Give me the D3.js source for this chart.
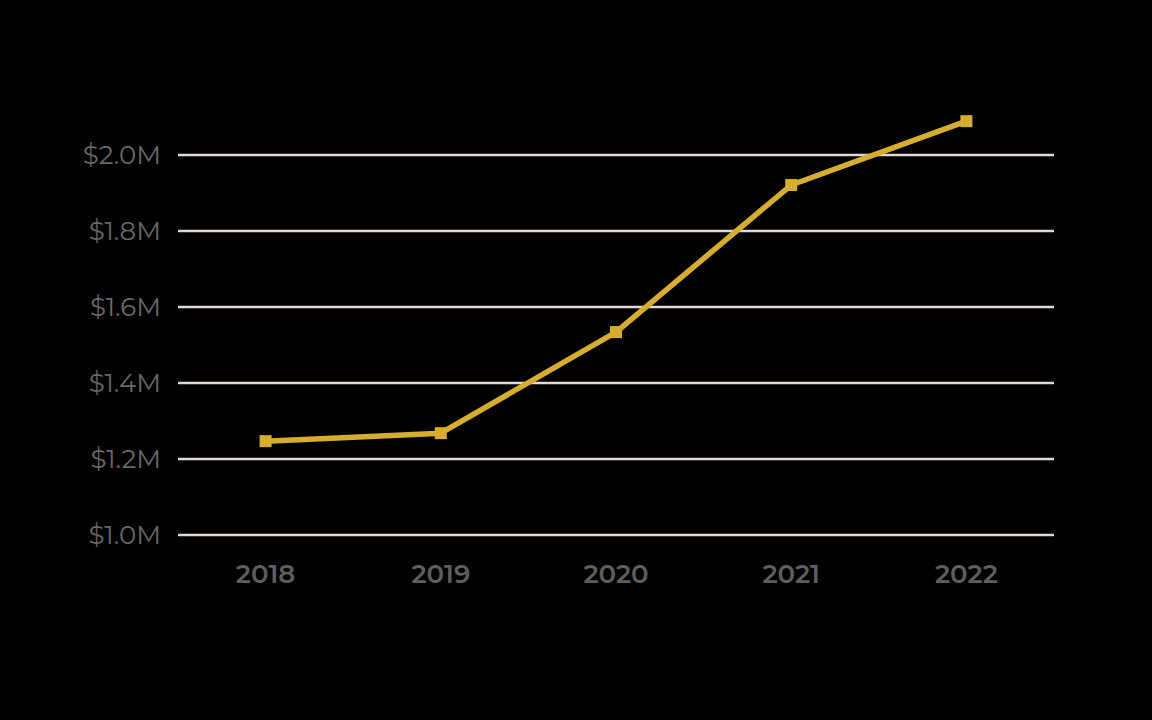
<!DOCTYPE html>
<html><head><meta charset="utf-8">
<script src="https://cdn.jsdelivr.net/npm/d3@7"></script>
<style>html,body{margin:0;padding:0;background:#000;}</style>
</head><body>
<svg id="chart" width="1152" height="720"></svg>
<script>
const years = ["2018","2019","2020","2021","2022"];
const values = [1.247, 1.268, 1.534, 1.921, 2.089];
const yTicks = [1.0, 1.2, 1.4, 1.6, 1.8, 2.0];

(function(){
const svg = d3.select("#chart");
svg.append("rect").attr("width",1152).attr("height",720).attr("fill","#000");
const mLeft = 178, mRight = 1054, mTop = 155, mBottom = 535;
const x = d3.scalePoint().domain(years).range([mLeft, mRight]).padding(0.5);
const y = d3.scaleLinear().domain([1.0, 2.0]).range([mBottom, mTop]);

svg.append("g").selectAll("line").data(yTicks).join("line")
  .attr("x1", mLeft).attr("x2", mRight)
  .attr("y1", d => y(d)).attr("y2", d => y(d))
  .attr("stroke", "#e0dad3").attr("stroke-width", 2.5);

svg.append("g").selectAll("text").data(yTicks).join("text")
  .attr("x", 161).attr("y", d => y(d)).attr("dy", "0.36em")
  .attr("text-anchor", "end")
  .attr("font-family", "Montserrat, 'Noto Sans', sans-serif")
  .attr("font-size", 26).attr("fill", "#686868")
  .text(d => "$" + d.toFixed(1) + "M");

svg.append("g").selectAll("text").data(years).join("text")
  .attr("x", d => x(d)).attr("y", 583)
  .attr("text-anchor", "middle")
  .attr("font-family", "Montserrat, 'Noto Sans', sans-serif")
  .attr("font-weight", 600)
  .attr("font-size", 26).attr("fill", "#5e5e5e")
  .text(d => d);

const pts = years.map((d,i) => [x(d), y(values[i])]);
svg.append("path").attr("d", d3.line()(pts))
  .attr("fill","none").attr("stroke","#d6ad2e").attr("stroke-width",5.5)
  .attr("stroke-linejoin","round");
svg.append("g").selectAll("rect").data(pts).join("rect")
  .attr("x", d => d[0]-6).attr("y", d => d[1]-6)
  .attr("width", 12).attr("height", 12).attr("fill", "#d6ad2e");
})();
</script>
</body></html>
